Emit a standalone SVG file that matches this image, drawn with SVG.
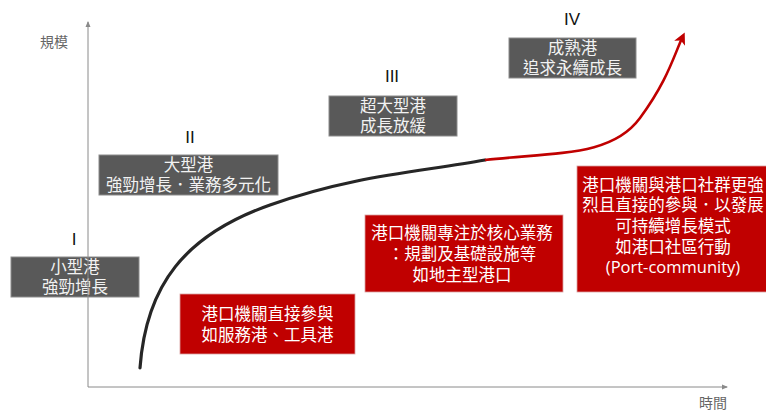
<svg xmlns="http://www.w3.org/2000/svg" width="766" height="412" viewBox="0 0 766 412">
<style>
text{font-family:"Noto Sans CJK TC","Noto Sans CJK SC","Liberation Sans",sans-serif;text-anchor:middle;}
.g{fill:#595959;stroke:#8c8c8c;stroke-width:1;}
.r{fill:#c00000;stroke:#d9a0a0;stroke-width:0.8;}
.gt{fill:#f2f2f2;font-size:16.5px;}
.rt{fill:#ffffff;font-size:16.5px;}
.num{fill:#111;font-size:17px;font-family:"Liberation Sans",sans-serif;}
.ax{fill:#666;font-size:14px;}
.axis{stroke:#8a8a8a;stroke-width:1;fill:none;}
.en{font-family:"Open Sans","Noto Sans",sans-serif;}
</style>
<defs>
<marker id="axh" markerWidth="6" markerHeight="6" refX="5" refY="3" orient="auto" markerUnits="userSpaceOnUse">
<path d="M0,0.5 L6,3 L0,5.5 Z" fill="#8a8a8a"/>
</marker>
<marker id="rh" markerWidth="14" markerHeight="14" refX="8" refY="6" orient="auto" markerUnits="userSpaceOnUse">
<path d="M0,0 L12,6 L0,12 L3,6 Z" fill="#c00000"/>
</marker>
</defs>
<rect width="766" height="412" fill="#ffffff"/>

<g id="stage1">
<text class="num" x="74" y="245">I</text>
<rect class="g" x="11" y="257" width="128" height="40"/>
<text class="gt"><tspan x="75" y="273">小型港</tspan><tspan x="75" y="293">強勁增長</tspan></text>
</g>
<g id="stage2">
<text class="num" x="190" y="143">II</text>
<rect class="g" x="99" y="155" width="179" height="40"/>
<text class="gt"><tspan x="188.5" y="171">大型港</tspan><tspan x="188.5" y="191">強勁增長．業務多元化</tspan></text>
</g>
<g id="stage3">
<text class="num" x="392" y="82">III</text>
<rect class="g" x="329" y="96" width="128" height="40"/>
<text class="gt"><tspan x="393" y="112">超大型港</tspan><tspan x="393" y="132">成長放緩</tspan></text>
</g>
<g id="stage4">
<text class="num" x="572" y="25">IV</text>
<rect class="g" x="509" y="38" width="127" height="40"/>
<text class="gt"><tspan x="572.5" y="54">成熟港</tspan><tspan x="572.5" y="74">追求永續成長</tspan></text>
</g>

<g id="role1">
<rect class="r" x="180" y="294" width="175" height="60"/>
<text class="rt"><tspan x="267.5" y="320">港口機關直接參與</tspan><tspan x="267.5" y="341">如服務港、工具港</tspan></text>
</g>
<g id="role2">
<rect class="r" x="365" y="215" width="198" height="77"/>
<text class="rt"><tspan x="462" y="239">港口機關專注於核心業務</tspan><tspan x="462" y="260">：規劃及基礎設施等</tspan><tspan x="462" y="281">如地主型港口</tspan></text>
</g>
<g id="role3">
<rect class="r" x="577" y="166" width="195" height="126"/>
<text class="rt"><tspan x="673" y="191">港口機關與港口社群更強</tspan><tspan x="673" y="211">烈且直接的參與．以發展</tspan><tspan x="673" y="232">可持續增長模式</tspan><tspan x="673" y="253">如港口社區行動</tspan><tspan class="en" x="673" y="273">(Port-community)</tspan></text>
</g>

<g id="axes">
<line class="axis" x1="88" y1="387" x2="88" y2="22" marker-end="url(#axh)"/>
<line class="axis" x1="88" y1="387" x2="727" y2="387" marker-end="url(#axh)"/>
<text class="ax" x="54" y="47">規模</text>
<text class="ax" x="713" y="408">時間</text>
</g>

<g id="connectors">
<path d="M140,368 C146,285 185,235 270,205 S420,172 485,160" fill="none" stroke="#262626" stroke-width="3.2" stroke-linecap="round"/>
<path d="M485,160 C560,152 612,156 640,118 S674,55 683,36" fill="none" stroke="#c00000" stroke-width="2.6" marker-end="url(#rh)"/>
</g>
</svg>
